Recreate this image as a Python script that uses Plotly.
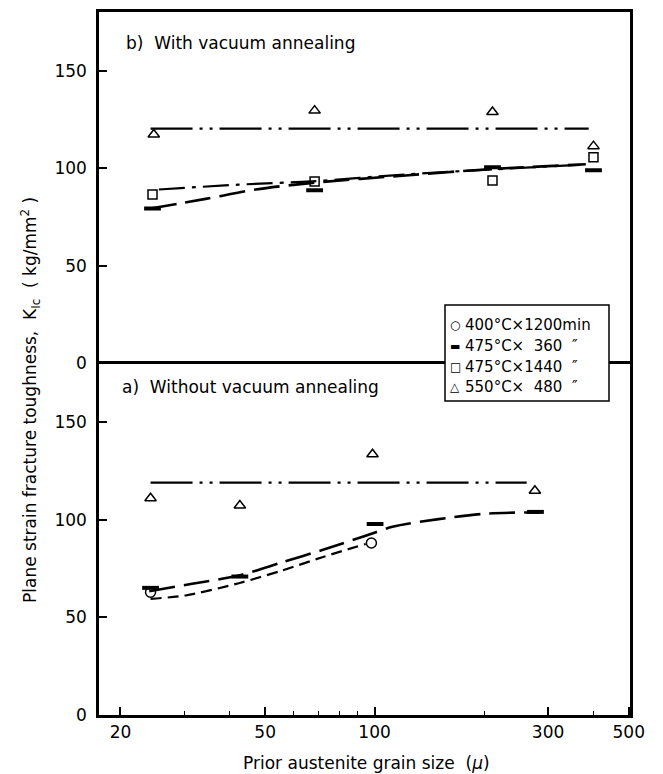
import plotly.graph_objects as go
from plotly.subplots import make_subplots

# ---------------- data ----------------
# b) With vacuum annealing (upper panel)
b_tri_x = [24.7, 68.4, 211, 400]
b_tri_y = [117.3, 129.5, 128.8, 111.3]
b_sq_x = [24.5, 68.4, 211, 400]
b_sq_y = [86.5, 93.2, 93.7, 105.6]
b_dash_x = [24.5, 68.4, 211, 400]
b_dash_y = [79.4, 88.7, 100.5, 99.0]
b_tri_line_x = [24.2, 388]
b_tri_line_y = [120.3, 120.3]
b_sq_line_x = [25.5, 42.3, 67.4, 121.7, 206, 381]
b_sq_line_y = [89.1, 91.6, 93.3, 96.8, 99.3, 101.9]
b_dash_line_x = [24.2, 34.3, 47.1, 67.4, 121.7, 206, 381]
b_dash_line_y = [79.4, 84.3, 89.1, 92.5, 96.3, 99.5, 102.0]

# a) Without vacuum annealing (lower panel)
a_tri_x = [24.2, 42.6, 98.7, 276]
a_tri_y = [111.0, 107.3, 133.5, 114.8]
a_circ_x = [24.2, 98.0]
a_circ_y = [62.9, 88.1]
a_dash_x = [24.2, 42.6, 100.3, 277]
a_dash_y = [65.1, 70.9, 97.8, 104.0]
a_tri_line_x = [24.2, 262]
a_tri_line_y = [119.0, 119.0]
a_dash_line_x = [24.0, 31.5, 42.3, 55.7, 71.8, 94.5, 112, 150, 206, 283]
a_dash_line_y = [63.4, 67.2, 71.4, 78.2, 84.5, 91.8, 96.4, 100.3, 103.2, 103.7]
a_circ_line_x = [24.2, 30.2, 42.3, 55.7, 71.8, 94.5]
a_circ_line_y = [59.5, 61.2, 67.5, 74.0, 80.8, 87.6]

x_tickvals = [20, 50, 100, 300, 500]
x_ticktext = ["20", "50", "100", "300", "500"]
x_minor = [30, 40, 60, 70, 80, 90, 200, 400]
y_tickvals = [0, 50, 100, 150]
y_ticktext = ["0", "50", "100", "150"]

legend_symbols = ["○", "▬", "□", "△"]
legend_names = ["400°C×1200min", "475°C×  360  ″", "475°C×1440  ″", "550°C×  480  ″"]

# ---------------- figure ----------------
FONT = "DejaVu Sans"
W, H = 663, 774
ML, MR, MT, MB = 99, 33, 12, 59
PW, PH = W - ML - MR, H - MT - MB

def px_x(p):  # pixel -> paper
    return (p - ML) / PW

def px_y(p):
    return (H - MB - p) / PH

fig = make_subplots(rows=2, cols=1, shared_xaxes=True, vertical_spacing=0)

LW = 2.2

def line(x, y, dash, row, width=LW):
    fig.add_trace(go.Scatter(x=x, y=y, mode="lines", line=dict(color="black", width=width,
                  dash=dash, shape="spline", smoothing=0.8), showlegend=False, hoverinfo="skip"),
                  row=row, col=1)

def pts(x, y, symbol, size, row, lw=1.5):
    fig.add_trace(go.Scatter(x=x, y=y, mode="markers", showlegend=False,
                  marker=dict(symbol=symbol, size=size, color="black",
                              line=dict(color="black", width=lw))), row=row, col=1)

DDD = "42px,7px,3px,7px,3px,7px"
DD = "26px,7px,4px,7px"
LD = "26px,9px"
SD = "11px,6px"

# upper panel
line(b_tri_line_x, b_tri_line_y, DDD, 1)
line(b_sq_line_x, b_sq_line_y, DD, 1)
line(b_dash_line_x, b_dash_line_y, LD, 1, width=2.6)
pts(b_tri_x, b_tri_y, "triangle-up-open", 10, 1)
pts(b_sq_x, b_sq_y, "square-open", 9, 1)
pts(b_dash_x, b_dash_y, "line-ew", 12, 1, lw=4)

# lower panel
line(a_tri_line_x, a_tri_line_y, DDD, 2)
line(a_dash_line_x, a_dash_line_y, LD, 2, width=2.6)
line(a_circ_line_x, a_circ_line_y, SD, 2)
pts(a_tri_x, a_tri_y, "triangle-up-open", 10, 2)
pts(a_circ_x, a_circ_y, "circle-open", 10, 2)
pts(a_dash_x, a_dash_y, "line-ew", 12, 2, lw=4)

axis_common = dict(showline=True, linecolor="black", linewidth=2.5,
                   showgrid=False, zeroline=False)

fig.update_xaxes(type="log", range=[1.242, 2.7025], **axis_common)
fig.update_xaxes(row=1, col=1, ticks="", showticklabels=False, side="top", mirror=False)
fig.update_xaxes(row=2, col=1, mirror=True, tickmode="array", tickvals=x_tickvals,
                 ticktext=x_ticktext,
                 ticks="inside", ticklen=8, tickwidth=1.5, tickcolor="black",
                 minor=dict(tickmode="array", tickvals=x_minor, ticks="inside", ticklen=4,
                            tickwidth=1.2, tickcolor="black", showgrid=False),
                 tickfont=dict(family=FONT, size=17, color="black"))
fig.update_yaxes(range=[0, 180], tickmode="array", tickvals=y_tickvals, ticktext=y_ticktext,
                 ticks="inside", ticklen=8, tickwidth=1.5, tickcolor="black",
                 ticklabelstandoff=6, mirror=True,
                 tickfont=dict(family=FONT, size=17, color="black"), **axis_common)

annotations = [
    dict(text="b)  With vacuum annealing", xref="paper", yref="paper",
         x=px_x(124), y=px_y(43), xanchor="left", yanchor="middle", showarrow=False,
         font=dict(family=FONT, size=17)),
    dict(text="a)  Without vacuum annealing", xref="paper", yref="paper",
         x=px_x(120), y=px_y(387), xanchor="left", yanchor="middle", showarrow=False,
         font=dict(family=FONT, size=17)),
    dict(text="Plane strain fracture toughness,  K<sub>Ic</sub>  ( kg/mm<sup>2</sup> )",
         xref="paper", yref="paper", x=px_x(30), y=px_y(400), textangle=-90,
         xanchor="center", yanchor="middle", showarrow=False,
         font=dict(family=FONT, size=17)),
    dict(text="Prior austenite grain size  (<i>μ</i>)", xref="paper", yref="paper",
         x=px_x(366), y=px_y(763), xanchor="center", yanchor="middle", showarrow=False,
         font=dict(family=FONT, size=17)),
]

# legend box drawn by hand (white box over the dividing line)
leg_rows = [325, 346, 367, 387]
for sym, name, yy in zip(legend_symbols, legend_names, leg_rows):
    annotations.append(dict(text=sym, xref="paper", yref="paper", x=px_x(455), y=px_y(yy),
                            xanchor="center", yanchor="middle", showarrow=False,
                            font=dict(family=FONT, size=12 if sym != "▬" else 11)))
    annotations.append(dict(text=name, xref="paper", yref="paper", x=px_x(463), y=px_y(yy),
                            xanchor="left", yanchor="middle", showarrow=False,
                            font=dict(family=FONT, size=15)))

fig.update_layout(
    width=W, height=H,
    margin=dict(l=ML, r=MR, t=MT, b=MB),
    paper_bgcolor="white", plot_bgcolor="white",
    font=dict(family=FONT, color="black"),
    showlegend=False,
    shapes=[dict(type="rect", xref="paper", yref="paper",
                 x0=px_x(445), x1=px_x(609), y0=px_y(401), y1=px_y(305),
                 line=dict(color="black", width=1.5), fillcolor="white", layer="above")],
    annotations=annotations,
)

fig.write_html("out.html")
